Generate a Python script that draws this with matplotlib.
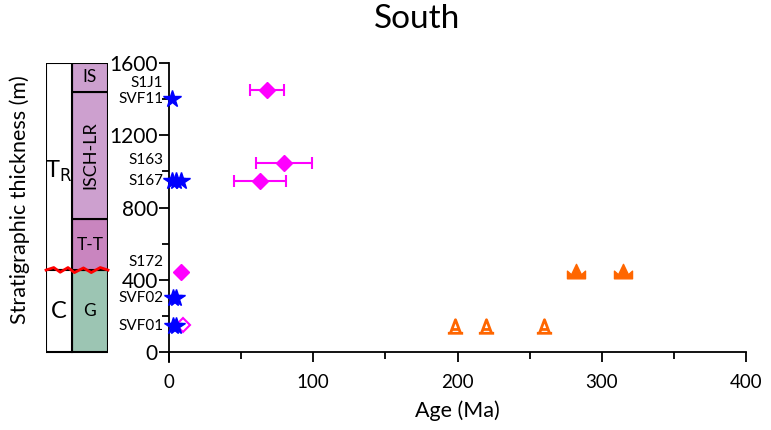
import matplotlib.pyplot as plt
from matplotlib.path import Path
from matplotlib.ticker import MultipleLocator

plt.rcParams['font.family'] = ['Lato', 'DejaVu Sans']

# sample labels (left of the y axis) and their heights (m)
sample_names = ['S1J1', 'SVF11', 'S163', 'S167', 'S172', 'SVF02', 'SVF01']
sample_label_y = [1489, 1400, 1063, 947, 498, 299, 144]

# blue stars
star_age = [2, 2, 5, 8, 3, 5, 3, 5]
star_thk = [1400, 947, 947, 947, 299, 299, 144, 144]

# magenta diamonds with error bars
dia_age = [68, 79.5, 63]
dia_thk = [1450, 1045, 945]
dia_lo = [56, 60.3, 44.8]
dia_hi = [79.4, 98.9, 81.3]

# magenta diamonds, no error
dia2_age = [8.3]
dia2_thk = [441]
open_dia_age = [9.9]
open_dia_thk = [148]

# orange markers
orange_fill_age = [282, 314.5]
orange_fill_thk = [444, 444]
orange_open_age = [198, 220, 260]
orange_open_thk = [146, 146, 146]

# stratigraphic column
units = ['G', 'T-T', 'ISCH-LR', 'IS']
unit_bot = [0, 454, 736, 1440]
unit_top = [454, 736, 1440, 1600]
unit_col = ['#9cc5b3', '#c985bf', '#cda0cf', '#cda0cf']
unconformity = 454

crown = Path([(-1, -0.7), (-1, 0.15), (-0.55, -0.25), (0, 0.9), (0.55, -0.25),
              (1, 0.15), (1, -0.7), (-1, -0.7)],
             [Path.MOVETO] + [Path.LINETO] * 6 + [Path.CLOSEPOLY])
a_mark = Path([(-0.6, -0.8), (0, 0.8), (0.6, -0.8), (-0.9, -0.8), (0.9, -0.8),
               (-0.45, -0.35), (0.45, -0.35)],
              [Path.MOVETO, Path.LINETO, Path.LINETO, Path.MOVETO, Path.LINETO,
               Path.MOVETO, Path.LINETO])

fig = plt.figure(figsize=(7.71, 4.30), dpi=100)
ax = fig.add_axes([0.2192, 0.1581, 0.7484, 0.6953])
ax_col = fig.add_axes([0.0597, 0.1581, 0.0804, 0.6953], sharey=ax)

ax.set_xlim(0, 400)
ax.set_ylim(-55, 1600)
ax.spines['top'].set_visible(False)
ax.spines['right'].set_visible(False)
ax.spines['bottom'].set_position(('data', 0))
ax.spines['left'].set_linewidth(1.3)
ax.spines['bottom'].set_linewidth(1.3)
ax.xaxis.set_major_locator(MultipleLocator(100))
ax.xaxis.set_minor_locator(MultipleLocator(50))
ax.yaxis.set_major_locator(MultipleLocator(400))
ax.yaxis.set_minor_locator(MultipleLocator(200))
ax.tick_params(which='major', direction='out', length=7, width=1.3)
ax.tick_params(which='minor', direction='out', length=5, width=1.3)
ax.tick_params(axis='x', labelsize=13.5, pad=9)
ax.tick_params(axis='y', labelsize=15, pad=1)

for name, y in zip(sample_names, sample_label_y):
    ax.annotate(name, xy=(0, y), xycoords=('axes fraction', 'data'),
                xytext=(-4, 0), textcoords='offset points',
                ha='right', va='center', fontsize=11)

ax.errorbar(dia_age, dia_thk, xerr=[[a - l for a, l in zip(dia_age, dia_lo)],
                                    [h - a for a, h in zip(dia_age, dia_hi)]],
            fmt='D', color='#ff00ff', ms=8, capsize=4, elinewidth=1.5,
            capthick=1.5, zorder=3)
ax.plot(dia2_age, dia2_thk, 'D', color='#ff00ff', ms=8, zorder=3)
ax.plot(open_dia_age, open_dia_thk, 'D', mfc='none', mec='#ff00ff', mew=1.5,
        ms=7, zorder=3)
ax.plot(star_age, star_thk, '*', color='#0000ff', ms=13, zorder=4,
        clip_on=False)
ax.plot(orange_fill_age, orange_fill_thk, ls='none', marker=crown,
        color='#ff6600', ms=13, zorder=3)
ax.plot(orange_open_age, orange_open_thk, ls='none', marker=a_mark,
        mfc='none', mec='#ff6600', mew=2, ms=11, zorder=3)

# column
ax_col.set_xlim(0, 2.4)
ax_col.axis('off')
for name, b, t, c in zip(units, unit_bot, unit_top, unit_col):
    ax_col.bar(1.7, t - b, bottom=b, width=1.4, color=c, edgecolor='black',
               linewidth=1.5)
    if name == 'ISCH-LR':
        ax_col.text(1.7, (b + t) / 2, name, rotation=90, ha='center',
                    va='center', fontsize=13)
    else:
        ax_col.text(1.7, (b + t) / 2, name, ha='center', va='center',
                    fontsize=12.5)
ax_col.bar(0.5, 1600 - unconformity, bottom=unconformity, width=1.0,
           color='white', edgecolor='black', linewidth=1.5)
ax_col.bar(0.5, unconformity, bottom=0, width=1.0, color='white',
           edgecolor='black', linewidth=1.5)
ax_col.text(0.5, 1000, r'T$_{\mathrm{R}}$', ha='center', va='center',
            fontsize=17)
ax_col.text(0.5, 227, 'C', ha='center', va='center', fontsize=17)
wave_x = [0, 0.3, 0.55, 0.85, 1.1, 1.45, 1.75, 2.1, 2.4]
wave_dy = [0, 14, -12, 14, -14, 12, -14, 14, 0]
ax_col.plot(wave_x, [unconformity + d for d in wave_dy], color='#ff0000',
            lw=2, zorder=5, clip_on=False)

fig.text(0.541, 0.955, 'South', ha='center', va='center', fontsize=24)
fig.text(0.593, 0.045, 'Age (Ma)', ha='center', va='center', fontsize=15.5)
fig.text(0.026, 0.535, 'Stratigraphic thickness (m)', rotation=90,
         ha='center', va='center', fontsize=15.5)

fig.savefig('out.png', dpi=100)
